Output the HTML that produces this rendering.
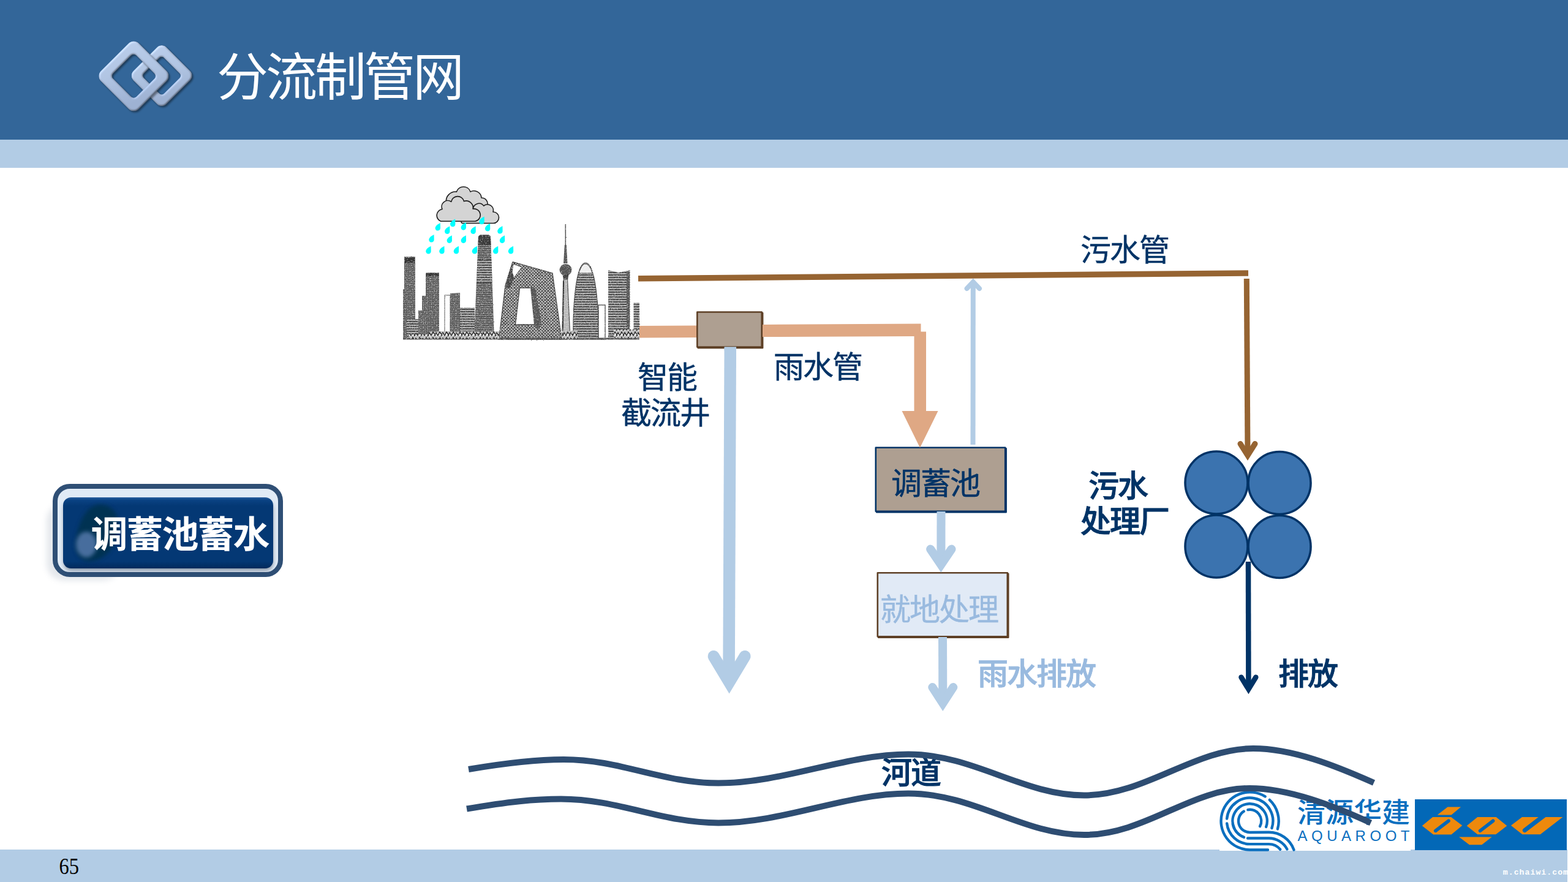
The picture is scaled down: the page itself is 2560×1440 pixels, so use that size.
<!DOCTYPE html>
<html lang="zh-CN">
<head>
<meta charset="utf-8">
<title>分流制管网</title>
<style>
html,body{margin:0;padding:0;background:#fff;}
body{width:2560px;height:1440px;overflow:hidden;position:relative;font-family:"Liberation Sans","Noto Sans CJK SC",sans-serif;}
svg{position:absolute;left:0;top:0;display:block;}
text{font-family:"Liberation Sans","Noto Sans CJK SC",sans-serif;}
.navy{fill:#003366;}
.lb{fill:#99badf;}
</style>
</head>
<body>
<svg id="stage" width="2560" height="1440" viewBox="0 0 2560 1440">
<defs>

<linearGradient id="ringG" x1="0" y1="0" x2="1" y2="0.6">
  <stop offset="0" stop-color="#bdd0ee"/><stop offset="0.5" stop-color="#b3c7e6"/><stop offset="1" stop-color="#a0b4d5"/>
</linearGradient>
<filter id="ringSh" x="-20%" y="-20%" width="150%" height="150%" color-interpolation-filters="sRGB">
  <feGaussianBlur in="SourceAlpha" stdDeviation="1.8" result="bump"/>
  <feDiffuseLighting in="bump" surfaceScale="2.2" diffuseConstant="1.0" lighting-color="#ffffff" result="lt"><feDistantLight azimuth="225" elevation="52"/></feDiffuseLighting>
  <feComposite in="lt" in2="SourceGraphic" operator="arithmetic" k1="0.62" k2="0" k3="0.50" k4="0" result="lit0"/>
  <feComposite in="lit0" in2="SourceAlpha" operator="in" result="lit"/>
  <feGaussianBlur in="SourceAlpha" stdDeviation="1.5" result="b"/>
  <feOffset in="b" dx="1.8" dy="2.4" result="o"/>
  <feComponentTransfer in="o" result="s"><feFuncA type="linear" slope="0.42"/></feComponentTransfer>
  <feMerge><feMergeNode in="s"/><feMergeNode in="lit"/></feMerge>
</filter>
<filter id="soft" x="-30%" y="-30%" width="160%" height="160%"><feGaussianBlur stdDeviation="5"/></filter>
<filter id="soft2" x="-30%" y="-30%" width="160%" height="160%"><feGaussianBlur stdDeviation="3"/></filter>
<filter id="sk" x="-3%" y="-3%" width="106%" height="106%" color-interpolation-filters="sRGB">
  <feTurbulence type="fractalNoise" baseFrequency="0.55" numOctaves="2" seed="11" result="n"/>
  <feDisplacementMap in="SourceGraphic" in2="n" scale="1.7" xChannelSelector="R" yChannelSelector="G" result="d"/>
  <feColorMatrix in="n" type="matrix" values="0 0 0 0 1  0 0 0 0 1  0 0 0 0 1  2.4 0 0 0 -1.3" result="w"/>
  <feComposite in="w" in2="d" operator="in" result="wi"/>
  <feMerge result="m"><feMergeNode in="d"/><feMergeNode in="wi"/></feMerge>
  <feGaussianBlur in="m" stdDeviation="0.4"/>
</filter>
<linearGradient id="btnG" x1="0" y1="0" x2="0" y2="1">
  <stop offset="0" stop-color="#2a5f9f"/><stop offset="0.04" stop-color="#0a4283"/><stop offset="0.12" stop-color="#043874"/><stop offset="0.9" stop-color="#043874"/><stop offset="1" stop-color="#022a5c"/>
</linearGradient>
<radialGradient id="blobG" cx="0.35" cy="0.72" r="0.55">
  <stop offset="0" stop-color="#5f82b8"/><stop offset="0.45" stop-color="#3f66a3"/><stop offset="1" stop-color="#0b3f6b" stop-opacity="0"/>
</radialGradient>
<pattern id="hz" width="4" height="3" patternUnits="userSpaceOnUse"><rect width="4" height="3" fill="#8a8a8a"/><rect width="4" height="1.4" fill="#3d3d3d"/></pattern>
<pattern id="hz2" width="4" height="4" patternUnits="userSpaceOnUse"><rect width="4" height="4" fill="#aaa"/><rect width="4" height="1.8" fill="#3c3c3c"/></pattern>
<pattern id="gr" width="3" height="3" patternUnits="userSpaceOnUse"><rect width="3" height="3" fill="#7c7c7c"/><rect width="3" height="1" fill="#4a4a4a"/><rect width="1" height="3" fill="#555"/></pattern>
<pattern id="xh" width="5" height="5" patternUnits="userSpaceOnUse"><rect width="5" height="5" fill="#c9c9c9"/><path d="M0,0L5,5M5,0L0,5M-1,4L1,6M4,-1L6,1M-1,1L1,-1M4,6L6,4" stroke="#333" stroke-width="1.1"/></pattern>
<pattern id="bush" width="11" height="9" patternUnits="userSpaceOnUse"><rect width="11" height="9" fill="#bbb"/><path d="M0,8L3,2L7,8M5,9L8,3L11,8" stroke="#222" stroke-width="1.5" fill="#f2f2f2"/></pattern>

</defs>
<rect x="0" y="0" width="2560" height="228" fill="#336699"/>
<rect x="0" y="228" width="2560" height="46" fill="#b2cce5"/>
<rect x="0" y="1387" width="2559" height="53" fill="#b2cce5"/>
<g id="hlogo"><g filter="url(#ringSh)"><path d="M236.85,85.35 L291.35,85.35 A11.00,11.00 0 0 1 302.35,96.35 L302.35,150.85 A11.00,11.00 0 0 1 291.35,161.85 L236.85,161.85 A11.00,11.00 0 0 1 225.85,150.85 L225.85,96.35 A11.00,11.00 0 0 1 236.85,85.35 Z M246.00,100.50 A5.00,5.00 0 0 0 241.00,105.50 L241.00,141.70 A5.00,5.00 0 0 0 246.00,146.70 L282.20,146.70 A5.00,5.00 0 0 0 287.20,141.70 L287.20,105.50 A5.00,5.00 0 0 0 282.20,100.50 Z" fill="url(#ringG)" transform="rotate(45 264.10 123.60)"/></g><g filter="url(#ringSh)"><path d="M186.50,80.40 L250.30,80.40 A12.00,12.00 0 0 1 262.30,92.40 L262.30,156.20 A12.00,12.00 0 0 1 250.30,168.20 L186.50,168.20 A12.00,12.00 0 0 1 174.50,156.20 L174.50,92.40 A12.00,12.00 0 0 1 186.50,80.40 Z M197.70,97.60 A6.00,6.00 0 0 0 191.70,103.60 L191.70,145.00 A6.00,6.00 0 0 0 197.70,151.00 L239.10,151.00 A6.00,6.00 0 0 0 245.10,145.00 L245.10,103.60 A6.00,6.00 0 0 0 239.10,97.60 Z" fill="url(#ringG)" transform="rotate(45 218.40 124.30)"/></g></g>
<text x="354" y="155.5" font-size="84" font-weight="400" letter-spacing="-4" fill="#fff">分流制管网</text>
<g id="city" filter="url(#sk)">
<polygon points="660,419 678,419 678,554 658,554 658,472 660,472" fill="url(#gr)"/>
<rect x="661" y="421" width="16" height="8" fill="#333"/>
<rect x="664" y="521" width="25" height="33" fill="url(#hz2)"/>
<polygon points="695,445 717,445 717,554 683,554 683,507 689,507 689,483 695,483" fill="url(#gr)"/>
<rect x="696" y="446" width="20" height="5" fill="#333"/>
<rect x="726" y="482" width="9" height="64" fill="#fff" stroke="#555" stroke-width="1"/>
<polygon points="735,479 751,478 751,554 735,554" fill="url(#gr)"/>
<rect x="751" y="502" width="24" height="52" fill="url(#hz2)"/>
<polygon points="781,386 784,383.5 798,383.5 801,386 807,554 774,554" fill="url(#hz)"/>
<polygon points="781,386 784,383.5 798,383.5 801,386 801.5,400 780.5,400" fill="#3a3a3a"/>
<polygon points="779.5,424 802.5,424 803.5,462 778,462" fill="url(#hz2)"/>
<path fill-rule="evenodd" d="M814.5,554 L825,466 L837,427.5 L902,446 L917,554 Z M848.5,470 L868.5,470 L878,530 L841.5,530 Z" fill="url(#xh)" stroke="#444" stroke-width="1.3"/>
<polygon points="838,431 852,436 833,462" fill="#fff" stroke="#444" stroke-width="1"/>
<polygon points="829,452 834,436 839,452 833,470 826,470" fill="#444"/>
<polygon points="866,470 874,470 884,530 878,540 872,530" fill="#555"/>
<line x1="923.3" y1="366" x2="923.3" y2="428" stroke="#555" stroke-width="1.6"/>
<polygon points="921.8,400 924.8,400 926.5,430 920,430" fill="#555"/>
<ellipse cx="923.5" cy="440.5" rx="10" ry="9.5" fill="#555"/>
<polygon points="918.5,448 928.5,448 927,457 920,457" fill="#444"/>
<polygon points="920.5,456 926.5,456 931,554 917.5,554" fill="#b8b8b8" stroke="#444" stroke-width="1.2"/>
<line x1="920" y1="458" x2="918.5" y2="554" stroke="#333" stroke-width="2"/>
<path d="M936,554 C935,500 940,429 956,429 C972,429 978,500 977,554 Z" fill="url(#hz2)" stroke="#444" stroke-width="1.2"/>
<path d="M945,446 C949,434 952,431 956,431 C960,431 964,436 967,446 Z" fill="#eee" stroke="#444" stroke-width="1"/>
<rect x="977" y="498" width="11" height="56" fill="#fff" stroke="#444" stroke-width="1.3"/>
<polygon points="993,441 1010,445 1028.5,441 1028.5,554 993,554" fill="url(#hz2)"/>
<rect x="1023" y="443" width="5" height="111" fill="#555"/>
<rect x="1034.5" y="494" width="9.5" height="60" fill="url(#hz2)"/>
<rect x="658" y="551.5" width="386" height="3" fill="#555"/>
<rect x="700" y="541" width="115" height="12" fill="url(#bush)"/>
<rect x="917" y="540" width="26" height="13" fill="url(#bush)"/>
<rect x="1002" y="538" width="42" height="14" fill="url(#bush)"/>
<rect x="668" y="546" width="40" height="7" fill="url(#bush)"/>
</g>
<g id="cloud" fill="#d4d4d4" stroke="#1c1c1c" stroke-width="1.6" stroke-linejoin="round">
<path d="M728.7,331.1 A15.2,15.2 0 0 1 745.4,313.1 A11.9,11.9 0 0 1 768.0,313.1 A12.2,12.2 0 0 1 786.0,323.0 A9.9,9.9 0 0 1 796.0,334.7 L796.0,349.2 L728.7,349.2 Z"/><path d="M772.5,341.9 A9.5,9.5 0 0 1 789.7,336.1 A9.5,9.5 0 0 1 805.0,346.0 A9.2,9.2 0 0 1 805.5,364.5 L754.9,364.5 A3.2,3.2 0 0 1 752.7,361.3 L772.5,361.3 Z"/><path d="M719.7,361.3 A10.3,10.3 0 0 1 722.0,341.5 A9.9,9.9 0 0 1 736.7,329.3 A10.6,10.6 0 0 1 757.4,328.6 A11.1,11.1 0 0 1 772.1,341.0 A10.1,10.1 0 0 1 775.7,361.3 Z"/>
</g>
<g id="rain" fill="#00ffff">
<path d="M718.8,363.9 c-3,1.5 -8.2,4.6 -8.2,8.5 c0,2.8 2.1,4.2 4.3,4.2 c2.4,0 4.1,-1.8 4.1,-4.6 z"/>
<path d="M743.2,357.6 c-3,1.5 -8.2,4.6 -8.2,8.5 c0,2.8 2.1,4.2 4.3,4.2 c2.4,0 4.1,-1.8 4.1,-4.6 z"/>
<path d="M760.8,363.0 c-3,1.5 -8.2,4.6 -8.2,8.5 c0,2.8 2.1,4.2 4.3,4.2 c2.4,0 4.1,-1.8 4.1,-4.6 z"/>
<path d="M790.6,353.5 c-3,1.5 -8.2,4.6 -8.2,8.5 c0,2.8 2.1,4.2 4.3,4.2 c2.4,0 4.1,-1.8 4.1,-4.6 z"/>
<path d="M800.1,364.8 c-3,1.5 -8.2,4.6 -8.2,8.5 c0,2.8 2.1,4.2 4.3,4.2 c2.4,0 4.1,-1.8 4.1,-4.6 z"/>
<path d="M820.4,368.9 c-3,1.5 -8.2,4.6 -8.2,8.5 c0,2.8 2.1,4.2 4.3,4.2 c2.4,0 4.1,-1.8 4.1,-4.6 z"/>
<path d="M734.2,369.3 c-3,1.5 -8.2,4.6 -8.2,8.5 c0,2.8 2.1,4.2 4.3,4.2 c2.4,0 4.1,-1.8 4.1,-4.6 z"/>
<path d="M776.6,369.3 c-3,1.5 -8.2,4.6 -8.2,8.5 c0,2.8 2.1,4.2 4.3,4.2 c2.4,0 4.1,-1.8 4.1,-4.6 z"/>
<path d="M708.5,382.9 c-3,1.5 -8.2,4.6 -8.2,8.5 c0,2.8 2.1,4.2 4.3,4.2 c2.4,0 4.1,-1.8 4.1,-4.6 z"/>
<path d="M737.8,384.2 c-3,1.5 -8.2,4.6 -8.2,8.5 c0,2.8 2.1,4.2 4.3,4.2 c2.4,0 4.1,-1.8 4.1,-4.6 z"/>
<path d="M760.8,384.2 c-3,1.5 -8.2,4.6 -8.2,8.5 c0,2.8 2.1,4.2 4.3,4.2 c2.4,0 4.1,-1.8 4.1,-4.6 z"/>
<path d="M824.0,384.2 c-3,1.5 -8.2,4.6 -8.2,8.5 c0,2.8 2.1,4.2 4.3,4.2 c2.4,0 4.1,-1.8 4.1,-4.6 z"/>
<path d="M703.5,401.8 c-3,1.5 -8.2,4.6 -8.2,8.5 c0,2.8 2.1,4.2 4.3,4.2 c2.4,0 4.1,-1.8 4.1,-4.6 z"/>
<path d="M725.4,401.8 c-3,1.5 -8.2,4.6 -8.2,8.5 c0,2.8 2.1,4.2 4.3,4.2 c2.4,0 4.1,-1.8 4.1,-4.6 z"/>
<path d="M748.9,401.8 c-3,1.5 -8.2,4.6 -8.2,8.5 c0,2.8 2.1,4.2 4.3,4.2 c2.4,0 4.1,-1.8 4.1,-4.6 z"/>
<path d="M778.9,401.8 c-3,1.5 -8.2,4.6 -8.2,8.5 c0,2.8 2.1,4.2 4.3,4.2 c2.4,0 4.1,-1.8 4.1,-4.6 z"/>
<path d="M813.2,401.8 c-3,1.5 -8.2,4.6 -8.2,8.5 c0,2.8 2.1,4.2 4.3,4.2 c2.4,0 4.1,-1.8 4.1,-4.6 z"/>
<path d="M838.0,401.8 c-3,1.5 -8.2,4.6 -8.2,8.5 c0,2.8 2.1,4.2 4.3,4.2 c2.4,0 4.1,-1.8 4.1,-4.6 z"/>
</g>
<g id="boxes">
<rect x="1139.7" y="511" width="105.4" height="57" fill="none" stroke="#5e4026" stroke-width="2.6" stroke-linejoin="round"/>
<rect x="1138.3" y="509.5" width="105.4" height="57" fill="#ae9f91" stroke="#5e4026" stroke-width="2.6" stroke-linejoin="round"/>
<rect x="1431.2" y="732.2" width="211.4" height="104" fill="none" stroke="#003366" stroke-width="2.6" stroke-linejoin="round"/>
<rect x="1429.8" y="730.8" width="211.4" height="104" fill="#ae9f91" stroke="#003366" stroke-width="2.6" stroke-linejoin="round"/>
<rect x="1434.2" y="936.7" width="212" height="104" fill="none" stroke="#5e4026" stroke-width="2.6" stroke-linejoin="round"/>
<rect x="1432.8" y="935.3" width="212" height="104" fill="#e1eaf6" stroke="#5e4026" stroke-width="2.6" stroke-linejoin="round"/>
<line x1="1192.3" y1="566.3" x2="1192.28" y2="572" stroke="#b2cce5" stroke-width="19.5"/>
<circle cx="1986" cy="788" r="51" fill="#3b73af" stroke="#003366" stroke-width="3.6"/>
<circle cx="2089" cy="788.5" r="51" fill="#3b73af" stroke="#003366" stroke-width="3.6"/>
<circle cx="1986" cy="892" r="51" fill="#3b73af" stroke="#003366" stroke-width="3.6"/>
<circle cx="2089" cy="892.5" r="51" fill="#3b73af" stroke="#003366" stroke-width="3.6"/>
</g>
<g id="pipes">
<line x1="1588.5" y1="726" x2="1588.8" y2="462" stroke="#b2cce5" stroke-width="8"/>
<polyline points="1578.6,471.0 1588.8,460.3 1599.0,471.0" fill="none" stroke="#b2cce5" stroke-width="8" stroke-linecap="round" stroke-linejoin="miter"/>
<line x1="1042" y1="454.8" x2="2038" y2="446" stroke="#966432" stroke-width="9.5"/>
<line x1="2035.3" y1="455" x2="2037" y2="742" stroke="#966432" stroke-width="9"/>
<polyline points="2025.0,724.5 2037.0,743.6 2049.0,724.5" fill="none" stroke="#966432" stroke-width="9" stroke-linecap="round" stroke-linejoin="miter"/>
<polygon points="1044,532 1137,531.5 1137,551 1044,551.5" fill="#dfa884"/>
<polygon points="1245,530 1503.5,528.5 1503.5,541.5 1512,541.5 1512,671 1531.5,671 1502,731 1472.5,671 1492.5,671 1492.5,549 1245,550" fill="#dfa884"/>
<line x1="1192.3" y1="568" x2="1190" y2="1105" stroke="#b2cce5" stroke-width="19.5"/>
<polyline points="1165.1,1071.5 1190.6,1114.0 1216.1,1071.5" fill="none" stroke="#b2cce5" stroke-width="19" stroke-linecap="round" stroke-linejoin="miter"/>
<line x1="1536.5" y1="835" x2="1536.4" y2="913" stroke="#b2cce5" stroke-width="14"/>
<polyline points="1519.1,896.5 1536.3,922.0 1553.5,896.5" fill="none" stroke="#b2cce5" stroke-width="14" stroke-linecap="round" stroke-linejoin="miter"/>
<line x1="1539" y1="1040" x2="1539.3" y2="1140" stroke="#b2cce5" stroke-width="14"/>
<polyline points="1522.3,1122.0 1539.3,1148.2 1556.3,1122.0" fill="none" stroke="#b2cce5" stroke-width="14" stroke-linecap="round" stroke-linejoin="miter"/>
<line x1="2038" y1="917" x2="2038.4" y2="1122" stroke="#003366" stroke-width="8.5"/>
<polyline points="2026.5,1105.7 2038.4,1125.2 2050.3,1105.7" fill="none" stroke="#003366" stroke-width="8.5" stroke-linecap="round" stroke-linejoin="miter"/>
</g>
<g id="labels" font-size="50" letter-spacing="-2">
<text class="navy" stroke="#003366" stroke-width="0.45" x="1764" y="425.5">污水管</text>
<text class="navy" stroke="#003366" stroke-width="0.45" x="1263" y="616.5">雨水管</text>
<text class="navy" stroke="#003366" stroke-width="0.45" x="1041" y="633.5">智能</text>
<text class="navy" stroke="#003366" stroke-width="0.45" x="1014" y="691.5">截流井</text>
<text class="navy" stroke="#003366" stroke-width="0.45" x="1455" y="806.5">调蓄池</text>
<text class="lb" stroke="#99badf" stroke-width="0.45" x="1437" y="1012.5">就地处理</text>
<text class="lb" x="1596" y="1117.5" font-weight="500" stroke="#99badf" stroke-width="0.8">雨水排放</text>
<text class="navy" x="1777" y="810.5" font-weight="500" stroke="#003366" stroke-width="0.9">污水</text>
<text class="navy" x="1764" y="868.5" font-weight="500" stroke="#003366" stroke-width="0.9">处理厂</text>
<text class="navy" x="2087" y="1117.5" font-weight="500" stroke="#003366" stroke-width="0.9">排放</text>
<text class="navy" x="1439" y="1278.5" font-weight="500" stroke="#003366" stroke-width="0.9">河道</text>
</g>
<g id="button">
<rect x="76" y="822" width="120" height="126" rx="28" fill="#7f8ea3" opacity="0.2" filter="url(#soft)"/>
<rect x="90" y="794" width="368" height="144" rx="24" fill="#e1ebf6" stroke="#2f4f75" stroke-width="8"/>
<rect x="104" y="818" width="342" height="114" rx="13" fill="#26364d" opacity="0.45" filter="url(#soft2)"/>
<rect x="103" y="812" width="343" height="116" rx="13" fill="url(#btnG)"/>
<path d="M160,824 C182,822 196,840 193,862 C190,890 176,912 150,916 C128,918 120,900 124,880 C128,856 138,828 160,824 Z" fill="#04304f" opacity="0.9" filter="url(#soft2)"/>
<ellipse cx="141" cy="889" rx="17" ry="21" fill="#6687bd" opacity="0.7" filter="url(#soft2)"/>
<text x="148.5" y="894" font-size="60" font-weight="700" letter-spacing="-2" fill="#fff">调蓄池蓄水</text>
</g>
<g id="logos">
<rect x="1991" y="1296" width="312" height="93" fill="#fff"/>
<g fill="none" stroke="#0b6fbf" stroke-width="4.4" stroke-linecap="round">
<path d="M2065.56,1300.46 A47.10,47.10 0 1 0 2040.60,1387.50 L2070.00,1387.50"/>
<path d="M2072.72,1305.95 A47.10,47.10 0 0 1 2085.88,1353.38"/>
<path d="M2076.45,1352.05 A37.70,37.70 0 1 0 2003.11,1336.46"/>
<path d="M2003.11,1344.34 A37.70,37.70 0 0 0 2040.60,1378.10 L2071.60,1378.10 A24.20,24.20 0 0 1 2090.14,1386.74"/>
<path d="M2067.10,1350.04 A28.20,28.20 0 1 0 2015.04,1352.32"/>
<path d="M2018.08,1357.37 A28.20,28.20 0 0 0 2018.11,1357.41"/>
<path d="M2037.00,1368.50 L2071.60,1368.50 A33.80,33.80 0 0 1 2101.44,1386.43"/>
<path d="M2012.83,1345.30 A28.20,28.20 0 0 0 2030.96,1366.90"/>
<path d="M2057.02,1349.13 A18.60,18.60 0 0 0 2037.37,1322.08"/>
<path d="M2030.74,1324.63 A18.60,18.60 0 0 0 2040.60,1359.00 L2071.60,1358.80 A43.50,43.50 0 0 1 2112.48,1387.42"/>
</g>
<text x="2118" y="1342.5" font-size="45" font-weight="500" fill="#0b6fbf" textLength="184" lengthAdjust="spacingAndGlyphs">清源华建</text>
<text x="2118.5" y="1373" font-size="24" fill="#0b6fbf" textLength="183" lengthAdjust="spacing" style="font-family:'Liberation Sans',sans-serif">AQUAROOT</text>
<rect x="2310" y="1305" width="248" height="83" fill="#0368b7"/>
<polygon points="2346.7,1330.5 2363.5,1317.5 2385.1,1317.5 2369.6,1330.5" fill="#ee890c"/>
<polygon points="2321.8,1348.3 2339.1,1334.1 2369.1,1334.1 2387.3,1347.8 2369.6,1362.5 2340.1,1362.5" fill="#ee890c"/>
<polygon points="2394.7,1348.3 2412.2,1334.1 2442.7,1334.1 2460.3,1348.3 2442.2,1362.2 2412.2,1362.2" fill="#ee890c"/>
<polygon points="2382.1,1366.4 2435.6,1366.4 2419.3,1379.3 2399.0,1379.3" fill="#ee890c"/>
<polygon points="2466.9,1347.8 2485.0,1333.9 2551.4,1333.9 2514.8,1362.2 2485.4,1362.2" fill="#ee890c"/>
<line x1="2343.7" y1="1356.4" x2="2365.0" y2="1340.2" stroke="#0368b7" stroke-width="5.6" stroke-linecap="round"/>
<line x1="2416.6" y1="1356.4" x2="2437.6" y2="1340.2" stroke="#0368b7" stroke-width="5.6" stroke-linecap="round"/>
<line x1="2489.5" y1="1355.5" x2="2521.4" y2="1331.2" stroke="#0368b7" stroke-width="7.2" stroke-linecap="round"/>
</g>
<g id="river" fill="none" stroke="#2e4d72" stroke-width="10">
<path d="M765,1256 C830,1245 876,1240 920,1240 C1014,1240 1080,1278.5 1173,1278.5 C1280,1278.5 1380,1231.5 1483,1231.5 C1590,1231.5 1670,1298.5 1770,1298.5 C1870,1298.5 1950,1222 2046,1222 C2110,1222 2180,1250 2243,1278"/>
<path d="M762,1320.5 C830,1309 872,1304.5 916,1304.5 C1010,1304.5 1080,1343.5 1173,1343.5 C1280,1343.5 1380,1295.5 1483,1295.5 C1590,1295.5 1670,1363 1770,1363 C1870,1363 1944,1287 2040,1287 C2104,1287 2176,1315 2238,1343.5"/>
</g>
<text x="96.5" y="1427.3" font-size="37" fill="#000" textLength="32.5" lengthAdjust="spacingAndGlyphs" style="font-family:'Liberation Serif','Noto Serif CJK SC',serif">65</text><text x="2453.8" y="1428" font-size="13.2" font-weight="700" letter-spacing="1.02" fill="#fff" style="font-family:'Liberation Mono',monospace">m.chaiwi.com</text>
</svg>
</body>
</html>
